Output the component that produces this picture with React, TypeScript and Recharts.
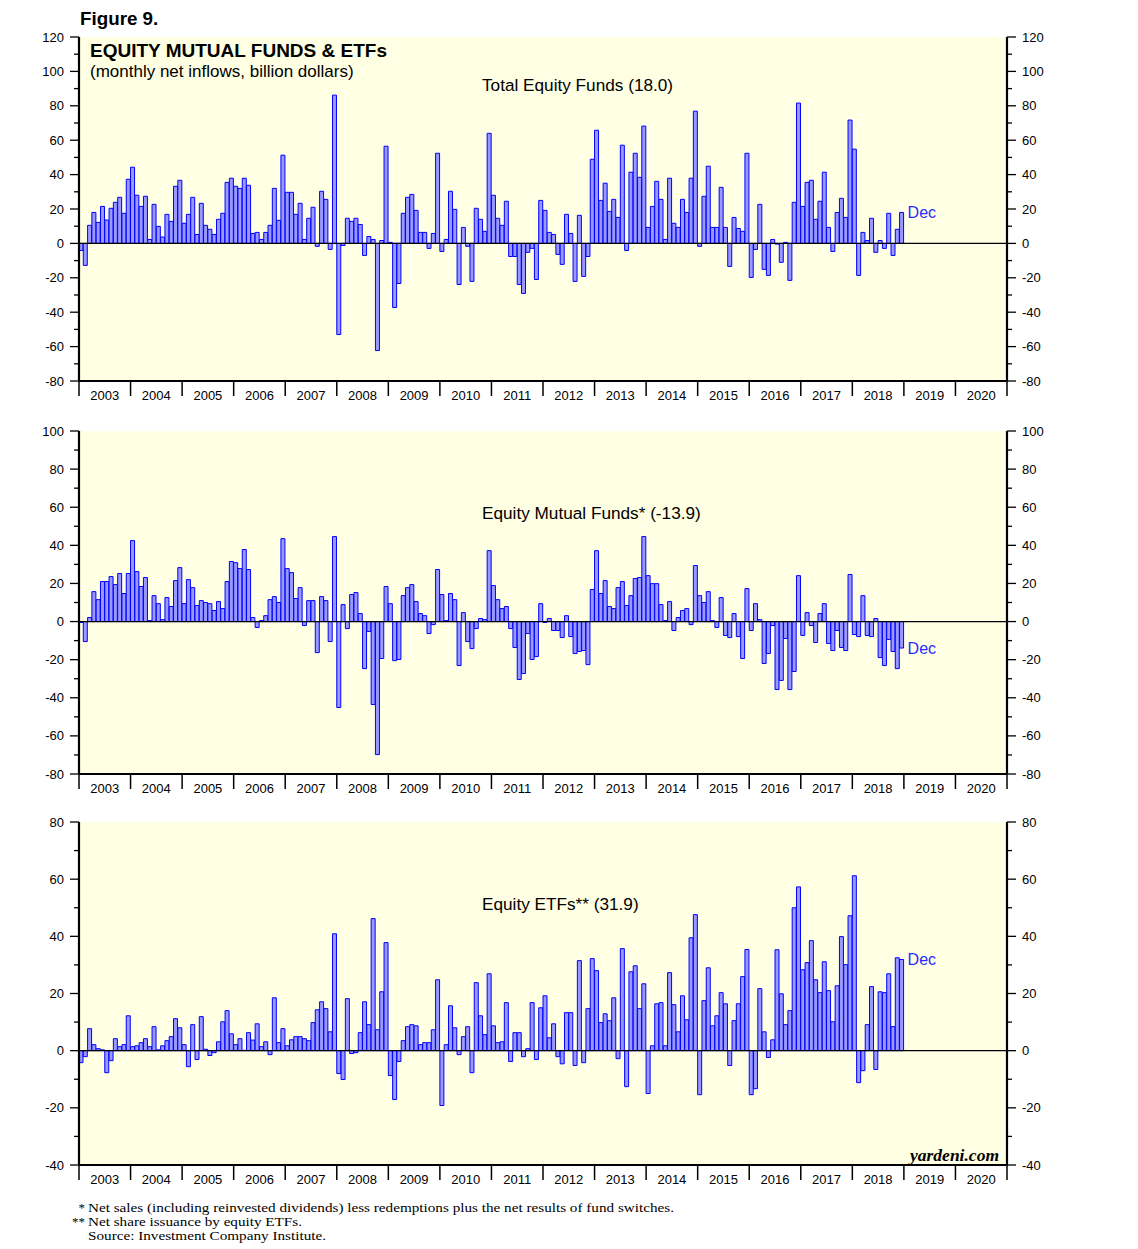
import React from "react";
import {
  BarChart,
  Bar,
  XAxis,
  YAxis,
  CartesianGrid,
  ReferenceLine,
  LabelList,
} from "recharts";

// ---------- categories ----------
const YEAR_LABELS = [
  "2003", "2004", "2005", "2006", "2007", "2008", "2009", "2010", "2011",
  "2012", "2013", "2014", "2015", "2016", "2017", "2018", "2019", "2020",
];
const MONTH_LABELS = ["Jan", "Feb", "Mar", "Apr", "May", "Jun", "Jul", "Aug", "Sep", "Oct", "Nov", "Dec"];
const CATEGORIES = YEAR_LABELS.flatMap((y) => MONTH_LABELS.map((m) => `${m} ${y}`));

// ---------- series (billion dollars, monthly, Jan 2003 - Dec 2018) ----------
const totalEquityFunds = [
  -4.1, -12.8, 10.5, 18.0, 12.2, 21.5, 13.6, 20.4, 23.9, 26.8, 17.5, 37.3,
  44.3, 28.0, 21.5, 27.4, 2.3, 22.7, 9.9, 3.7, 16.9, 12.8, 33.2, 36.7,
  11.7, 16.9, 26.8, 5.2, 23.3, 10.5, 8.2, 5.2, 14.0, 17.5, 35.5, 37.9,
  33.2, 32.0, 37.9, 33.8, 5.8, 6.4, 2.3, 6.4, 10.5, 32.0, 13.4, 51.3,
  29.7, 29.7, 16.9, 23.3, 2.3, 14.6, 21.0, -1.7, 30.3, 25.6, -3.5, 86.2,
  -53.0, -1.2, 14.6, 12.8, 14.6, 11.0, -7.0, 4.0, 2.3, -62.3, 1.7, 56.5,
  0.6, -37.3, -23.3, 17.5, 26.8, 28.5, 19.2, 6.4, 6.4, -2.9, 5.8, 52.4,
  -4.7, 2.3, 30.3, 19.8, -23.9, 9.3, -1.7, -22.1, 20.4, 14.0, 7.0, 64.0,
  28.0, 14.6, 10.5, 24.5, -7.6, -7.6, -23.9, -29.1, -5.2, -2.9, -21.0, 25.0,
  19.2, 6.4, 5.2, -6.4, -12.2, 16.9, 5.8, -22.1, 16.3, -19.2, -7.6, 48.9,
  65.8, 25.0, 35.0, 18.6, 25.6, 15.1, 57.1, -4.1, 41.4, 52.4, 38.4, 68.2,
  9.3, 21.5, 36.1, 25.6, 2.3, 37.9, 11.7, 9.3, 25.6, 18.0, 37.9, 76.9,
  -1.7, 27.4, 44.9, 9.3, 9.3, 32.6, 9.3, -13.4, 15.1, 8.7, 7.0, 52.4,
  -19.8, -3.5, 22.7, -15.1, -18.6, 2.3, -0.4, -11.0, 0.6, -21.5, 23.9, 81.6,
  21.5, 35.5, 36.7, 14.0, 24.5, 41.4, 9.3, -4.7, 18.0, 26.2, 15.1, 71.7,
  54.8, -18.6, 6.4, 1.7, 14.6, -5.2, 1.7, -2.9, 17.5, -7.0, 8.2, 18.0,
];

const equityMutualFunds = [
  -0.5, -10.5, 2.1, 15.7, 11.5, 21.0, 21.0, 23.6, 19.4, 25.2, 14.7, 25.2,
  42.5, 26.2, 18.4, 23.1, 0.5, 13.6, 9.4, 1.0, 12.6, 7.9, 21.5, 28.3,
  9.4, 22.0, 17.8, 8.4, 11.0, 10.0, 9.4, 5.8, 10.5, 6.8, 21.0, 31.5,
  30.9, 27.8, 37.8, 27.3, 2.1, -3.1, 0.5, 3.1, 11.5, 13.1, 10.0, 43.5,
  27.8, 25.7, 12.1, 17.8, -2.1, 11.0, 11.0, -16.3, 13.1, 11.0, -10.5, 44.6,
  -45.1, 8.9, -3.7, 14.2, 15.2, 4.2, -24.7, -5.2, -43.5, -69.8, -19.4, 18.4,
  9.4, -20.5, -19.9, 13.6, 17.8, 19.4, 10.5, 4.2, 3.1, -6.3, -1.6, 27.3,
  14.2, 0.5, 14.7, 11.5, -23.1, 4.7, -10.5, -14.2, -3.7, 1.6, 1.0, 37.2,
  18.9, 11.5, 6.8, 7.9, -3.7, -13.6, -30.4, -27.3, -6.3, -19.9, -18.4, 9.4,
  -0.5, 1.6, -4.7, -4.7, -8.4, 3.1, -7.9, -16.8, -15.7, -15.2, -22.6, 16.8,
  37.2, 14.7, 21.5, 7.9, 6.8, 17.8, 21.0, 8.4, 13.6, 22.6, 23.1, 44.6,
  24.1, 19.9, 19.9, 8.9, 0.5, 10.5, -4.7, 2.1, 5.8, 6.8, -1.6, 29.4,
  13.6, 10.0, 15.7, 0.5, -3.1, 12.6, -7.3, -8.4, 4.2, -7.9, -19.4, 17.3,
  -4.7, 9.4, 1.0, -22.0, -16.8, -2.1, -35.7, -30.9, -8.9, -35.7, -26.2, 24.1,
  -7.3, 4.7, -2.1, -11.0, 4.2, 9.4, -11.5, -15.2, -4.7, -13.6, -15.2, 24.7,
  -6.8, -7.9, 13.6, -7.3, -7.9, 1.6, -18.9, -23.1, -9.4, -15.7, -24.7, -13.9,
];

const equityETFs = [
  -4.2, -2.1, 7.7, 2.1, 0.7, 0.3, -7.7, -3.5, 4.2, 1.4, 2.1, 12.2,
  1.4, 1.7, 2.8, 4.2, 1.4, 8.4, 0.3, 1.7, 3.5, 4.9, 11.2, 8.0,
  2.1, -5.6, 9.1, -3.1, 11.9, 0.5, -1.7, -0.7, 3.1, 10.1, 14.0, 5.9,
  2.1, 4.2, 0.1, 6.3, 3.7, 9.4, 1.4, 3.1, -1.4, 18.5, 2.8, 7.7,
  1.7, 3.8, 4.9, 4.9, 4.2, 3.5, 9.8, 14.3, 17.1, 14.7, 6.6, 40.9,
  -8.0, -10.1, 18.2, -1.0, -0.7, 6.3, 17.1, 9.1, 46.2, 7.3, 20.6, 37.8,
  -8.7, -17.1, -3.8, 3.5, 8.4, 9.1, 8.7, 2.1, 2.8, 2.8, 7.3, 24.8,
  -19.2, 2.1, 15.7, 8.0, -1.4, 4.9, 8.4, -7.7, 23.8, 12.2, 5.6, 26.9,
  8.7, 2.8, 3.1, 16.8, -3.8, 6.3, 6.3, -2.1, 0.7, 16.8, -3.1, 15.0,
  19.2, 4.5, 9.4, -2.1, -4.6, 13.3, 13.3, -5.2, 31.5, -4.2, 14.7, 32.2,
  28.0, 9.8, 12.9, 10.5, 18.5, -2.8, 35.7, -12.6, 27.6, 29.7, 14.7, 23.4,
  -15.0, 1.7, 16.4, 16.8, 1.7, 27.3, 16.1, 6.6, 19.2, 10.8, 39.5, 47.6,
  -15.4, 17.5, 29.0, 8.7, 12.2, 20.3, 16.4, -5.2, 10.5, 16.4, 25.9, 35.4,
  -15.4, -13.3, 21.7, 6.6, -2.4, 3.8, 35.3, 19.9, 9.1, 14.0, 50.0, 57.3,
  28.3, 30.8, 38.5, 24.8, 20.3, 31.1, 21.0, 10.1, 22.7, 39.9, 30.1, 47.2,
  61.2, -11.2, -7.0, 9.1, 22.4, -6.6, 20.6, 20.3, 26.9, 8.4, 32.5, 31.9,
];

// ---------- axis ticks ----------
const TOTAL_TICKS = [-80, -70, -60, -50, -40, -30, -20, -10, 0, 10, 20, 30, 40, 50, 60, 70, 80, 90, 100, 110, 120];
const MF_TICKS = [-80, -70, -60, -50, -40, -30, -20, -10, 0, 10, 20, 30, 40, 50, 60, 70, 80, 90, 100];
const ETF_TICKS = [-40, -30, -20, -10, 0, 10, 20, 30, 40, 50, 60, 70, 80];

// ---------- layout ----------
const PAGE_W = 1138;
const PAGE_H = 1249;
const PLOT_L = 79;
const PLOT_R = 1007;
const AXIS_W = 60;
const X_AXIS_H = 30;
const BOTTOM_PAD = 2;
const SANS = "'Liberation Sans', Arial, Helvetica, sans-serif";
const SERIF = "'Liberation Serif', 'Times New Roman', serif";
const PLOT_BG = "#FFFFE3";
const BAR_FILL = "#9999FF";
const BAR_STROKE = "#0000FF";
const DEC_COLOR = "#2B2BFF";
const FRAME = { stroke: "#000", strokeWidth: 2.2 };

function YTick(props: any) {
  const { x, y, payload, side } = props;
  const v = Number(payload.value);
  const major = v % 20 === 0;
  const len = major ? 9 : 5;
  const dir = side === "left" ? -1 : 1;
  return (
    <g>
      <line x1={x} x2={x + dir * len} y1={y} y2={y} stroke="#000" strokeWidth={1.3} />
      {major ? (
        <text
          x={x + dir * 15}
          y={y}
          textAnchor={side === "left" ? "end" : "start"}
          dominantBaseline="central"
          fontSize={13}
          fontFamily={SANS}
          fill="#000"
        >
          {v}
        </text>
      ) : null}
    </g>
  );
}

function XTick(props: any) {
  const { x, y, payload, bw } = props;
  const i = CATEGORIES.indexOf(payload.value);
  const start = x - bw / 2;
  const items: any[] = [];
  if (i % 12 === 0) {
    items.push(<line key="t" x1={start} x2={start} y1={y} y2={y + 15} stroke="#000" strokeWidth={1.5} />);
  }
  if (i === CATEGORIES.length - 1) {
    items.push(<line key="e" x1={x + bw / 2} x2={x + bw / 2} y1={y} y2={y + 15} stroke="#000" strokeWidth={1.5} />);
  }
  if (i % 12 === 6) {
    items.push(
      <text
        key="l"
        x={start}
        y={y + 14}
        textAnchor="middle"
        dominantBaseline="central"
        fontSize={13}
        fontFamily={SANS}
        fill="#000"
      >
        {payload.value.split(" ")[1]}
      </text>
    );
  }
  return <g>{items}</g>;
}

function Panel(props: {
  top: number;
  plotTop: number;
  plotBottom: number;
  values: number[];
  domain: [number, number];
  ticks: number[];
}) {
  const { top, plotTop, plotBottom, values, domain, ticks } = props;
  const height = plotBottom - top + X_AXIS_H + BOTTOM_PAD;
  const data = CATEGORIES.map((c, i) => ({ month: c, v: i < values.length ? values[i] : null }));
  const lastIdx = values.length - 1;
  const bw = (PLOT_R - PLOT_L) / CATEGORIES.length;
  return (
    <div style={{ position: "absolute", left: 0, top, width: PAGE_W, height }}>
      <BarChart
        width={PAGE_W}
        height={height}
        data={data}
        margin={{
          top: plotTop - top,
          bottom: BOTTOM_PAD,
          left: PLOT_L - AXIS_W,
          right: PAGE_W - PLOT_R - AXIS_W,
        }}
        barCategoryGap={0}
        barGap={0}
      >
        <CartesianGrid yAxisId="left" horizontal={false} vertical={false} fill={PLOT_BG} fillOpacity={1} />
        <XAxis
          dataKey="month"
          height={X_AXIS_H}
          interval={0}
          axisLine={FRAME}
          tickLine={false}
          tickSize={0}
          tickMargin={0}
          tick={(p: any) => <XTick {...p} bw={bw} />}
        />
        <XAxis
          xAxisId="top"
          dataKey="month"
          orientation="top"
          height={0}
          axisLine={FRAME}
          tickLine={false}
          tick={false}
        />
        <YAxis
          yAxisId="left"
          orientation="left"
          width={AXIS_W}
          domain={domain}
          ticks={ticks}
          interval={0}
          allowDataOverflow
          axisLine={FRAME}
          tickLine={false}
          tickSize={0}
          tickMargin={0}
          tick={(p: any) => <YTick {...p} side="left" />}
        />
        <YAxis
          yAxisId="right"
          orientation="right"
          width={AXIS_W}
          domain={domain}
          ticks={ticks}
          interval={0}
          allowDataOverflow
          axisLine={FRAME}
          tickLine={false}
          tickSize={0}
          tickMargin={0}
          tick={(p: any) => <YTick {...p} side="right" />}
        />
        <Bar
          yAxisId="left"
          dataKey="v"
          fill={BAR_FILL}
          stroke={BAR_STROKE}
          strokeWidth={1}
          isAnimationActive={false}
        >
          <LabelList
            dataKey="v"
            content={(p: any) =>
              p.index === lastIdx ? (
                <text
                  x={p.x + p.width + 4}
                  y={p.y}
                  dominantBaseline="central"
                  fontSize={16}
                  fontFamily={SANS}
                  fill={DEC_COLOR}
                >
                  Dec
                </text>
              ) : null
            }
          />
        </Bar>
        <ReferenceLine yAxisId="left" y={0} stroke="#000" strokeWidth={1.2} />
      </BarChart>
    </div>
  );
}

function Overlay() {
  return (
    <svg
      width={PAGE_W}
      height={PAGE_H}
      style={{ position: "absolute", left: 0, top: 0, pointerEvents: "none" }}
    >
      <text x={80} y={18} dominantBaseline="central" fontSize={18.8} fontWeight="bold" fontFamily={SANS}>
        Figure 9.
      </text>
      <text x={90} y={50} dominantBaseline="central" fontSize={19} fontWeight="bold" fontFamily={SANS}>
        EQUITY MUTUAL FUNDS &amp; ETFs
      </text>
      <text x={90} y={71} dominantBaseline="central" fontSize={17} fontFamily={SANS}>
        (monthly net inflows, billion dollars)
      </text>
      <text x={482} y={85} dominantBaseline="central" fontSize={17.2} fontFamily={SANS}>
        Total Equity Funds (18.0)
      </text>
      <text x={482} y={513} dominantBaseline="central" fontSize={17.2} fontFamily={SANS}>
        Equity Mutual Funds* (-13.9)
      </text>
      <text x={482} y={904} dominantBaseline="central" fontSize={17.2} fontFamily={SANS}>
        Equity ETFs** (31.9)
      </text>
      <text
        x={999}
        y={1155}
        textAnchor="end"
        dominantBaseline="central"
        fontSize={17.5}
        fontWeight="bold"
        fontStyle="italic"
        fontFamily={SERIF}
      >
        yardeni.com
      </text>
      <text x={85} y={1207} textAnchor="end" dominantBaseline="central" fontSize={13} fontFamily={SERIF}>*</text>
      <text x={88} y={1207} dominantBaseline="central" fontSize={13} textLength={586} lengthAdjust="spacingAndGlyphs" fontFamily={SERIF}>
        Net sales (including reinvested dividends) less redemptions plus the net results of fund switches.
      </text>
      <text x={85} y={1221} textAnchor="end" dominantBaseline="central" fontSize={13} fontFamily={SERIF}>**</text>
      <text x={88} y={1221} dominantBaseline="central" fontSize={13} textLength={214} lengthAdjust="spacingAndGlyphs" fontFamily={SERIF}>
        Net share issuance by equity ETFs.
      </text>
      <text x={88} y={1235} dominantBaseline="central" fontSize={13} textLength={238} lengthAdjust="spacingAndGlyphs" fontFamily={SERIF}>
        Source: Investment Company Institute.
      </text>
    </svg>
  );
}

export default function App() {
  return (
    <div style={{ position: "absolute", left: 0, top: 0, width: PAGE_W, height: PAGE_H, background: "#fff" }}>
      <Panel top={0} plotTop={37} plotBottom={381} values={totalEquityFunds} domain={[-80, 120]} ticks={TOTAL_TICKS} />
      <Panel top={400} plotTop={431} plotBottom={774} values={equityMutualFunds} domain={[-80, 100]} ticks={MF_TICKS} />
      <Panel top={790} plotTop={822} plotBottom={1165} values={equityETFs} domain={[-40, 80]} ticks={ETF_TICKS} />
      <Overlay />
    </div>
  );
}
